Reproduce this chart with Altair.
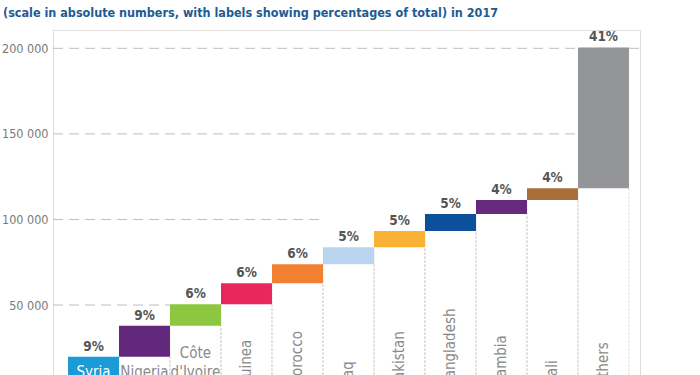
import altair as alt
import pandas as pd

# ---- data ----
categories = ["Syria", "Nigeria", "Côte d'Ivoire", "Guinea", "Morocco", "Iraq",
              "Pakistan", "Bangladesh", "Gambia", "Mali", "Others"]
display_labels = ["Syria", "Nigeria", "Côte\nd'Ivoire", "Guinea", "Morocco", "Iraq",
                  "Pakistan", "Bangladesh", "Gambia", "Mali", "Others"]
values = [19800, 18100, 12500, 12300, 11100, 9900, 9600, 9900, 8200, 6800, 82300]
pct_labels = ["9%", "9%", "6%", "6%", "6%", "5%", "5%", "5%", "4%", "4%", "41%"]
colors = ["#1a9ad6", "#62287c", "#8dc63f", "#e8285c", "#f28033", "#b9d4ee",
          "#fab235", "#0c4f9b", "#65297e", "#aa6f39", "#939598"]
y_ticks = [50000, 100000, 150000, 200000]
grid_stop = ["Côte d'Ivoire", "Iraq", "Others", None]
title_text = "(scale in absolute numbers, with labels showing percentages of total) in 2017"

# ---- build tables ----
X_MIN, X_MAX = -0.294, 11.216
Y_MIN, Y_MAX = 9100, 210700

rows = []
cum = 0
for i, (c, lab, v, p) in enumerate(zip(categories, display_labels, values, pct_labels)):
    rows.append(dict(category=c, label=lab, idx=i, idx2=i + 1, start=cum, end=cum + v,
                     pct=p, center=i + 0.5, zero=0))
    cum += v
df = pd.DataFrame(rows)

edges = []
for r in rows:
    if r["start"] > 0:
        edges.append(dict(x=r["idx"], top=r["start"], zero=0))
        edges.append(dict(x=r["idx2"], top=r["start"], zero=0))
edges_df = pd.DataFrame(edges)

grid_df = pd.DataFrame([
    dict(y=v, x1=X_MIN, x2=(categories.index(s) if s is not None else X_MAX))
    for v, s in zip(y_ticks, grid_stop)
])

FONT = "Liberation Sans Narrow, DejaVu Sans Condensed, Roboto Condensed, Roboto, sans-serif"

xscale = alt.Scale(domain=[X_MIN, X_MAX], nice=False, zero=False)
yscale = alt.Scale(domain=[Y_MIN, Y_MAX], nice=False, zero=False)

grid = alt.Chart(grid_df).mark_rule(color="#bdbdbd", strokeDash=[10, 6], strokeWidth=1).encode(
    x=alt.X("x1:Q", scale=xscale, axis=None),
    x2="x2:Q",
    y=alt.Y("y:Q", scale=yscale,
            axis=alt.Axis(values=y_ticks, domain=False, ticks=False, grid=False,
                          labelPadding=5, labelFontSize=12.5, labelColor="#7a7a7a",
                          labelFont=FONT, title=None,
                          labelExpr="replace(format(datum.value, ','), ',', ' ')")),
)

vlines = alt.Chart(edges_df).mark_rule(color="#cfcfcf", strokeDash=[2, 2], strokeWidth=1).encode(
    x=alt.X("x:Q", scale=xscale),
    y=alt.Y("zero:Q", scale=yscale),
    y2="top:Q",
)

bars = alt.Chart(df).mark_bar(stroke=None).encode(
    x=alt.X("idx:Q", scale=xscale),
    x2="idx2:Q",
    y=alt.Y("start:Q", scale=yscale),
    y2="end:Q",
    color=alt.Color("category:N", scale=alt.Scale(domain=categories, range=colors), legend=None),
)

pct = alt.Chart(df).mark_text(font=FONT, fontSize=13.5, fontWeight="bold", color="#555555",
                              baseline="alphabetic", dy=-6).encode(
    x=alt.X("center:Q", scale=xscale),
    y=alt.Y("end:Q", scale=yscale),
    text="pct:N",
)

# single-line horizontal labels (Syria, Nigeria)
horiz = alt.Chart(df).transform_filter(alt.datum.idx < 2).mark_text(
    font=FONT, fontSize=15, baseline="alphabetic", dy=-14
).encode(
    x=alt.X("center:Q", scale=xscale),
    y=alt.Y("zero:Q", scale=yscale),
    text="label:N",
    color=alt.condition(alt.datum.idx == 0, alt.value("white"), alt.value("#8a8a8a")),
)

# two-line horizontal label (Côte d'Ivoire)
horiz2 = alt.Chart(df).transform_filter(alt.datum.idx == 2).mark_text(
    font=FONT, fontSize=15, baseline="alphabetic", lineBreak="\n", lineHeight=19, dy=-33,
    color="#8a8a8a"
).encode(
    x=alt.X("center:Q", scale=xscale),
    y=alt.Y("zero:Q", scale=yscale),
    text="label:N",
)

vert = alt.Chart(df).transform_filter(alt.datum.idx >= 3).mark_text(
    font=FONT, fontSize=15, angle=270, align="left", baseline="middle", dx=3, color="#8a8a8a"
).encode(
    x=alt.X("center:Q", scale=xscale),
    y=alt.Y("zero:Q", scale=yscale),
    text="label:N",
)

chart = alt.layer(grid, vlines, bars, pct, horiz, horiz2, vert).properties(
    width=587, height=345,
    autosize=alt.AutoSizeParams(type="none"),
    padding={"left": 53, "top": 30, "right": 60, "bottom": 0},
    title=alt.TitleParams(title_text, anchor="start", frame="group", dx=-50, offset=11,
                          font=FONT, fontSize=12.5, fontWeight="bold", color="#1d5b94"),
).configure_view(stroke=None).configure(background="white")

chart.save("out.html", embed_options={"renderer": "svg", "actions": False})
